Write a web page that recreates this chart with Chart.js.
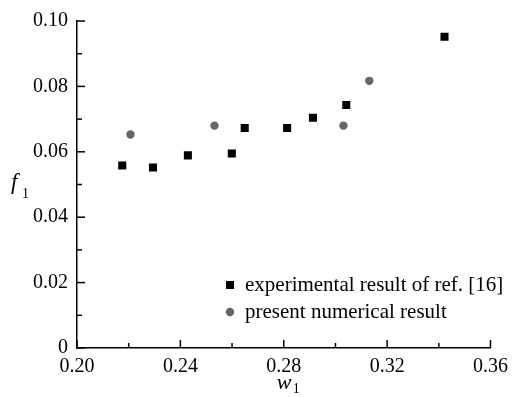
<!DOCTYPE html>
<html>
<head>
<meta charset="utf-8">
<script src="https://cdn.jsdelivr.net/npm/chart.js@4/dist/chart.umd.min.js"></script>
<style>
  html, body { margin: 0; padding: 0; background: #fff; }
  #wrap { width: 515px; height: 397px; }
</style>
</head>
<body>
<div id="wrap"><canvas id="chart" width="515" height="397"></canvas></div>
<script>
// experimental points (ref. [16])
var expW = [0.2175, 0.2294, 0.2429, 0.2599, 0.2649, 0.2813, 0.2913, 0.3042, 0.3422];
var expF = [0.0558, 0.0552, 0.0589, 0.0595, 0.0673, 0.0673, 0.0704, 0.0743, 0.0952];
// present numerical points
var numW = [0.2207, 0.2532, 0.3031, 0.3131];
var numF = [0.0653, 0.0680, 0.0680, 0.0817];

var xMajor = [0.20, 0.24, 0.28, 0.32, 0.36];
var yMajor = [0, 0.02, 0.04, 0.06, 0.08, 0.10];

var legendLabels = ['experimental result of ref. [16]', 'present numerical result'];

var FONT = "'Liberation Serif', 'Times New Roman', serif";

function toPoints(xs, ys) {
    return xs.map(function(x, i) { return {x: x, y: ys[i]}; });
}

// ticks pointing into the plot + axis titles + legend
var decorPlugin = {
    id: 'decor',
    afterDraw: function(chart) {
        var ctx = chart.ctx;
        var xs = chart.scales.x, ys = chart.scales.y;
        var area = chart.chartArea;
        ctx.save();
        ctx.strokeStyle = '#000';
        ctx.lineWidth = 1.5;

        // y ticks (major every 0.02, minor between)
        for (var i = 0; i < yMajor.length; i++) {
            var py = ys.getPixelForValue(yMajor[i]);
            ctx.beginPath(); ctx.moveTo(area.left, py); ctx.lineTo(area.left + 8, py); ctx.stroke();
            if (i < yMajor.length - 1) {
                var pm = ys.getPixelForValue((yMajor[i] + yMajor[i + 1]) / 2);
                ctx.beginPath(); ctx.moveTo(area.left, pm); ctx.lineTo(area.left + 5, pm); ctx.stroke();
            }
        }
        // x ticks
        for (var j = 0; j < xMajor.length; j++) {
            var px = xs.getPixelForValue(xMajor[j]);
            ctx.beginPath(); ctx.moveTo(px, area.bottom); ctx.lineTo(px, area.bottom - 8); ctx.stroke();
            if (j < xMajor.length - 1) {
                var qm = xs.getPixelForValue((xMajor[j] + xMajor[j + 1]) / 2);
                ctx.beginPath(); ctx.moveTo(qm, area.bottom); ctx.lineTo(qm, area.bottom - 5); ctx.stroke();
            }
        }

        // axis titles
        ctx.fillStyle = '#000';
        ctx.textBaseline = 'alphabetic';
        ctx.textAlign = 'left';
        ctx.font = 'italic 23px ' + FONT;
        ctx.fillText('f', 11, 189);
        ctx.font = '14px ' + FONT;
        ctx.fillText('1', 22, 198);

        var cx = (area.left + area.right) / 2;
        ctx.font = 'italic 22px ' + FONT;
        ctx.fillText('w', cx - 7, 389);
        ctx.font = '14px ' + FONT;
        ctx.fillText('1', cx + 9, 393);

        // legend
        var lx = 230, ly = [285, 312];
        ctx.font = '21px ' + FONT;
        ctx.textBaseline = 'middle';
        ctx.fillStyle = '#000';
        ctx.fillRect(lx - 4, ly[0] - 4, 8, 8);
        ctx.fillText(legendLabels[0], 245, ly[0]);
        ctx.fillStyle = '#666';
        ctx.beginPath(); ctx.arc(lx, ly[1], 4.2, 0, Math.PI * 2); ctx.fill();
        ctx.fillStyle = '#000';
        ctx.fillText(legendLabels[1], 245, ly[1]);
        ctx.restore();
    }
};

var ctx = document.getElementById('chart').getContext('2d');
var chart = new Chart(ctx, {
    type: 'scatter',
    data: {
        datasets: [{
            label: legendLabels[0],
            data: toPoints(expW, expF),
            pointStyle: 'rect',
            pointRadius: 5.7,
            backgroundColor: '#000',
            borderColor: '#000',
            borderWidth: 0
        }, {
            label: legendLabels[1],
            data: toPoints(numW, numF),
            pointStyle: 'circle',
            pointRadius: 4.2,
            backgroundColor: '#666',
            borderColor: '#666',
            borderWidth: 0
        }]
    },
    options: {
        responsive: false,
        animation: false,
        layout: { padding: { top: 16, right: 18, left: 0, bottom: 0 } },
        plugins: {
            legend: { display: false },
            tooltip: { enabled: false }
        },
        scales: {
            x: {
                type: 'linear',
                min: 0.20,
                max: 0.36,
                afterFit: function(scale) { scale.height = 49; },
                afterBuildTicks: function(scale) {
                    scale.ticks = xMajor.map(function(v) { return {value: v}; });
                },
                grid: { display: false, drawTicks: false },
                border: { display: true, color: '#000', width: 1.5 },
                ticks: {
                    padding: 7,
                    color: '#000',
                    font: { family: FONT, size: 20 },
                    maxRotation: 0,
                    callback: function(v) { return v.toFixed(2); }
                }
            },
            y: {
                type: 'linear',
                min: 0,
                max: 0.10,
                afterFit: function(scale) { scale.width = 77; },
                afterBuildTicks: function(scale) {
                    scale.ticks = yMajor.map(function(v) { return {value: v}; });
                },
                grid: { display: false, drawTicks: false },
                border: { display: true, color: '#000', width: 1.5 },
                ticks: {
                    padding: 9,
                    color: '#000',
                    font: { family: FONT, size: 20 },
                    callback: function(v) { return v === 0 ? '0' : v.toFixed(2); }
                }
            }
        }
    },
    plugins: [decorPlugin]
});
</script>
</body>
</html>
